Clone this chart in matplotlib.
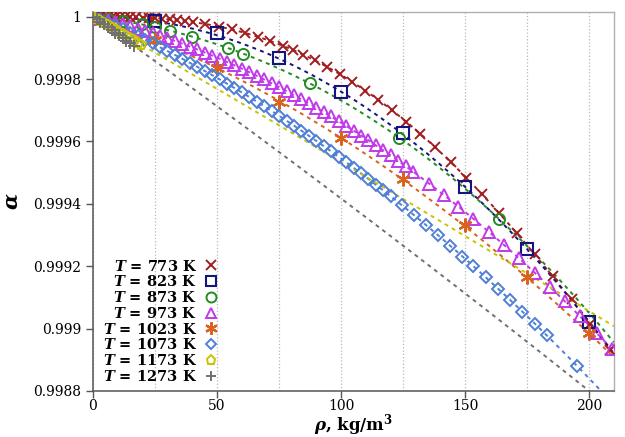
import numpy as np
import matplotlib
matplotlib.use("Agg")
import matplotlib.pyplot as plt
from matplotlib.lines import Line2D
from matplotlib.ticker import MultipleLocator, FuncFormatter

plt.rcParams["font.family"] = ["DejaVu Serif"]
plt.rcParams["mathtext.fontset"] = "custom"
plt.rcParams["mathtext.rm"] = "DejaVu Serif:bold"
plt.rcParams["mathtext.it"] = "DejaVu Serif:italic:bold"
plt.rcParams["mathtext.bf"] = "DejaVu Serif:bold"

# ---- measured points: density rho (kg/m^3) and alpha ----
temperatures = [773, 823, 873, 973, 1023, 1073, 1173, 1273]

rho_773 = [0, 1, 2, 3, 4.5, 6, 7.5, 9, 11, 13, 15, 17.5, 20, 22.5, 25, 28, 31, 34, 37,
           40.4, 45.2, 50.6, 55.9, 61.3, 66.7, 71.4, 76.5, 80.8, 84.8, 89.5, 94.2, 99.6,
           104.3, 109.7, 115, 120.4, 126.2, 131.9, 137.9, 144.2, 150.4, 156.7, 163.8,
           170.8, 178.2, 185.6, 193, 200.4, 208.5]
alpha_773 = [1.0, 1.0, 1.0, 1.0, 1.0, 1.0, 1.0, 1.0, 0.999999, 0.999999, 0.999999,
             0.999998, 0.999997, 0.999996, 0.999995, 0.999993, 0.999991, 0.999989,
             0.999986, 0.999983, 0.999977, 0.999968, 0.999959, 0.999948, 0.999935,
             0.999922, 0.999907, 0.999892, 0.999878, 0.999860, 0.999840, 0.999815,
             0.999792, 0.999763, 0.999733, 0.999701, 0.999663, 0.999625, 0.999581,
             0.999534, 0.999484, 0.999431, 0.999369, 0.999306, 0.999240, 0.999168,
             0.999094, 0.999015, 0.998931]

rho_823 = [0, 25, 50, 75, 100, 125, 150, 175, 200]
alpha_823 = [1.0, 0.999985, 0.999948, 0.999868, 0.999759, 0.999627, 0.999454,
             0.999255, 0.999021]

rho_873 = [0, 6, 12, 19.6, 25, 31, 39.8, 54.6, 60.6, 87.5, 123.5, 163.7]
alpha_873 = [1.0, 0.999994, 0.999986, 0.999975, 0.999966, 0.999955, 0.999936,
             0.999899, 0.999881, 0.999786, 0.999612, 0.999351]

rho_973 = [0, 3, 6, 9, 12, 15, 18, 21, 24, 27, 30, 33, 36, 39, 42, 45, 48, 51, 54, 57,
           60, 63, 66, 69, 72, 75, 78, 81, 84, 87, 90, 93, 96, 99, 102, 105, 108, 111,
           114, 117, 120, 123, 126, 129, 135.6, 141.3, 147.3, 153.3, 159.7, 165.7,
           171.8, 178.2, 184.3, 190.3, 196.4, 203.1, 209.2]
alpha_973 = [1.0, 0.999994, 0.999988, 0.999982, 0.999976, 0.999969, 0.999962, 0.999954,
             0.999947, 0.999939, 0.999931, 0.999922, 0.999913, 0.999904, 0.999895,
             0.999885, 0.999875, 0.999865, 0.999855, 0.999844, 0.999833, 0.999822,
             0.999810, 0.999799, 0.999786, 0.999774, 0.999761, 0.999748, 0.999735,
             0.999722, 0.999708, 0.999694, 0.999680, 0.999665, 0.999650, 0.999635,
             0.999619, 0.999604, 0.999588, 0.999571, 0.999555, 0.999538, 0.999521,
             0.999503, 0.999464, 0.999429, 0.999391, 0.999352, 0.999309, 0.999268,
             0.999225, 0.999178, 0.999132, 0.999087, 0.999039, 0.998985, 0.998935]

rho_1023 = [0, 25, 50, 75, 100, 125, 150, 175, 200]
alpha_1023 = [1.0, 0.999925, 0.999835, 0.999728, 0.999611, 0.999481, 0.999332,
              0.999166, 0.998985]

rho_1073 = [0, 3, 6, 9, 12, 15, 18, 21, 24, 27, 30, 33, 36, 39, 42, 45, 48, 51, 54, 57,
            60, 63, 66, 69, 72, 75, 78, 81, 84, 87, 90, 93, 96, 99, 102, 105, 108, 111,
            114, 117, 120, 124.5, 129.4, 134.3, 139, 144, 148.9, 153.3, 158.3, 163.4,
            168.1, 173.1, 178.2, 182.9, 195]
alpha_1073 = [1.0, 0.999990, 0.999980, 0.999969, 0.999959, 0.999948, 0.999937,
              0.999925, 0.999914, 0.999902, 0.999890, 0.999877, 0.999865, 0.999852,
              0.999839, 0.999826, 0.999813, 0.999799, 0.999785, 0.999771, 0.999757,
              0.999742, 0.999728, 0.999713, 0.999698, 0.999682, 0.999667, 0.999651,
              0.999635, 0.999618, 0.999602, 0.999585, 0.999568, 0.999551, 0.999533,
              0.999516, 0.999498, 0.999480, 0.999461, 0.999443, 0.999424, 0.999395,
              0.999364, 0.999331, 0.999300, 0.999266, 0.999231, 0.999200, 0.999164,
              0.999127, 0.999092, 0.999054, 0.999015, 0.998978, 0.998881]

rho_1173 = [0, 1.5, 3, 4.5, 6, 7.5, 9, 10.5, 12, 13.5, 15, 16.5, 18, 19.5]
alpha_1173 = [1.0, 0.999993, 0.999986, 0.999979, 0.999972, 0.999965, 0.999959,
              0.999952, 0.999945, 0.999938, 0.999931, 0.999924, 0.999917, 0.999910]

rho_1273 = [0, 1.5, 3, 4.5, 6, 7.5, 9, 10.5, 12, 13.5, 15, 16.5]
alpha_1273 = [1.0, 0.999992, 0.999983, 0.999975, 0.999966, 0.999958, 0.999949,
              0.999940, 0.999932, 0.999923, 0.999915, 0.999906]

# ---- fitted curves: 1 - alpha = c1*rho + c2*rho^2 + c3*rho^3 + c4*rho^4 ----
fit_773 = [0.0, 3.401e-9, 2.0003e-10, -4.72e-13]
fit_823 = [0.0, 2.365e-8, 4.0e-12, 0.0]
fit_873 = [9.401e-7, 1.5859e-8, 1.595e-11, 0.0]
fit_973 = [1.85e-6, 1.55e-8, 0.0, 0.0]
fit_1023 = [2.7e-6, 1.19e-8, 0.0, 0.0]
fit_1073 = [3.3e-6, 1.25e-8, 0.0, 0.0]
fit_1173 = [4.6e-6, 6.0e-10, 0.0, 0.0]
fit_1273 = [5.66e-6, 1.7e-9, 0.0, 0.0]

series = [
    (773, rho_773, alpha_773, fit_773, "#a11d21", "x", 7.5, 1.4),
    (823, rho_823, alpha_823, fit_823, "#14147f", "s", 8.5, 1.5),
    (873, rho_873, alpha_873, fit_873, "#238b23", "o", 8.0, 1.4),
    (973, rho_973, alpha_973, fit_973, "#c03ae8", "^", 8.5, 1.4),
    (1023, rho_1023, alpha_1023, fit_1023, "#d9621c", (6, 2, 0), 10.0, 1.6),
    (1073, rho_1073, alpha_1073, fit_1073, "#4f7fd6", "D", 6.0, 1.4),
    (1173, rho_1173, alpha_1173, fit_1173, "#c8c400", "p", 7.5, 1.4),
    (1273, rho_1273, alpha_1273, fit_1273, "#707070", "+", 8.5, 1.4),
]

fig = plt.figure(figsize=(6.25, 4.37), dpi=100)
ax = fig.add_axes([0.1488, 0.1053, 0.8336, 0.8673])

rho_max = 210
rho_line = np.linspace(0, rho_max, 400)

# dashed fit lines
for T, r, a, c, col, mk, ms, mew in series:
    coeffs = [c[3], c[2], c[1], c[0], 0.0]
    ax.plot(rho_line, 1.0 - np.polyval(coeffs, rho_line), color=col, lw=1.4,
            dashes=(2.0, 2.2), zorder=2)

# measured points
handles = []
for T, r, a, c, col, mk, ms, mew in series:
    ax.plot(r, a, linestyle="none", marker=mk, ms=ms, mew=mew, mec=col,
            mfc="none", color=col, zorder=3)
    handles.append(Line2D([], [], linestyle="none", marker=mk, ms=ms * 0.9,
                          mew=mew, mec=col, mfc="none", color=col,
                          label=rf"$T$ = {T} K"))

ax.set_xlim(0, rho_max)
ax.set_ylim(0.9988, 1.000015)

ax.xaxis.set_major_locator(MultipleLocator(50))
ax.xaxis.set_minor_locator(MultipleLocator(25))
ax.yaxis.set_major_locator(MultipleLocator(0.0002))
ax.yaxis.set_major_formatter(
    FuncFormatter(lambda v, p: f"{v:.4f}".rstrip("0").rstrip(".")))
ax.tick_params(axis="both", which="major", labelsize=10, length=5, width=1,
               color="#555555", direction="out")
ax.tick_params(axis="x", which="minor", length=0)
ax.tick_params(axis="x", which="major", pad=1)

ax.grid(True, axis="x", which="both", linestyle=":", color="#b8b8b8", lw=0.9)
ax.set_axisbelow(True)

for s in ("left", "bottom"):
    ax.spines[s].set_color("#555555")
    ax.spines[s].set_linewidth(1.1)
for s in ("top", "right"):
    ax.spines[s].set_color("#b0b0b0")
    ax.spines[s].set_linewidth(1.0)

ax.set_xlabel(r"$\rho$, kg/m$^{3}$", fontsize=12, fontweight="bold")
ax.xaxis.set_label_coords(0.5, -0.104)
ax.xaxis.label.set_verticalalignment("baseline")
ax.set_ylabel(r"$\alpha$", fontsize=15, fontweight="bold", labelpad=8)

leg = ax.legend(handles=handles, loc="lower left", bbox_to_anchor=(0.005, 0.0),
                frameon=False, markerfirst=False, handlelength=1.0,
                handletextpad=0.45, labelspacing=0.05, borderaxespad=0.3,
                borderpad=0.2,
                prop={"family": "DejaVu Serif", "weight": "bold", "size": 10.5})

fig.savefig("out.png", dpi=100)
